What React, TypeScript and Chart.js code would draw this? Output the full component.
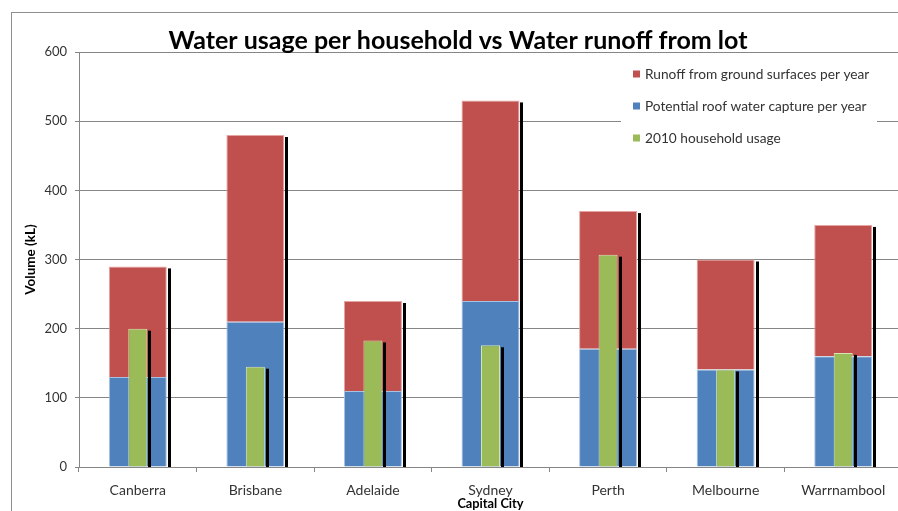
import React, { useEffect, useRef } from 'react';
import { Chart, registerables } from 'chart.js';

Chart.register(...registerables);

const categories = ['Canberra', 'Brisbane', 'Adelaide', 'Sydney', 'Perth', 'Melbourne', 'Warrnambool'];
const groundRunoff = [160, 270, 130, 290, 199, 159, 190];
const roofCapture = [130, 210, 110, 240, 171, 141, 160];
const householdUsage = [200, 145, 183, 176, 307, 141, 165];
const yTicks = [0, 100, 200, 300, 400, 500, 600];
const seriesNames = ['Runoff from ground surfaces per year', 'Potential roof water capture per year', '2010 household usage'];
const TITLE = 'Water usage per household vs Water runoff from lot';
const Y_TITLE = 'Volume (kL)';
const X_TITLE = 'Capital City';

const FONT = 'Lato, "Open Sans", sans-serif';
const GRID = '#868686';
const TEXT = '#333333';

const framePlugin = {
  id: 'frame',
  beforeDraw(chart: any) {
    const ctx = chart.ctx;
    ctx.save();
    ctx.strokeStyle = '#8e8e8e';
    ctx.lineWidth = 1;
    ctx.strokeRect(11.5, 12.5, 2000, 2000);
    ctx.restore();
  },
};

// black drop strip on the right side of every bar, drawn just before the bars of that dataset
const shadowPlugin = {
  id: 'barShadow',
  beforeDatasetDraw(chart: any, args: any) {
    const ctx = chart.ctx;
    const meta = args.meta;
    const zero = chart.scales.y.getPixelForValue(0);
    ctx.save();
    ctx.fillStyle = '#000000';
    meta.data.forEach((el: any) => {
      const p = el.getProps(['x', 'y', 'base', 'width'], true);
      const right = p.x + p.width / 2;
      const top = Math.min(p.y, p.base) + 2;
      ctx.fillRect(Math.round(right) + 1, top, 3, zero - top);
    });
    ctx.restore();
  },
};

const overlayPlugin = {
  id: 'overlay',
  afterDraw(chart: any) {
    const ctx = chart.ctx;
    ctx.save();
    // title
    ctx.fillStyle = '#000000';
    ctx.font = `bold 25px ${FONT}`;
    ctx.textAlign = 'center';
    ctx.textBaseline = 'alphabetic';
    ctx.fillText(TITLE, 458, 49);
    // legend
    ctx.fillStyle = '#ffffff';
    ctx.fillRect(621, 57, 256, 101);
    ctx.font = `13.7px ${FONT}`;
    ctx.textAlign = 'left';
    ctx.textBaseline = 'middle';
    chart.data.datasets.forEach((ds: any, i: number) => {
      const cy = 74 + i * 32;
      ctx.fillStyle = ds.backgroundColor;
      ctx.fillRect(633, cy - 3.5, 7, 7);
      ctx.fillStyle = TEXT;
      ctx.fillText(ds.label, 645, cy + 0.5);
    });
    ctx.restore();
  },
};

export default function App() {
  const ref = useRef<HTMLCanvasElement>(null);
  useEffect(() => {
    if (!ref.current) return;
    const chart = new Chart(ref.current, {
      type: 'bar',
      data: {
        labels: categories,
        datasets: [
          {
            label: seriesNames[0],
            data: groundRunoff,
            backgroundColor: '#C0504D',
            borderColor: '#E3A4A2',
            borderWidth: 1,
            stack: 'total',
            order: 3,
            grouped: false,
            barPercentage: 0.493,
            categoryPercentage: 1,
          },
          {
            label: seriesNames[1],
            data: roofCapture,
            backgroundColor: '#4F81BD',
            borderColor: '#A9C2E2',
            borderWidth: 1,
            stack: 'total',
            order: 2,
            grouped: false,
            barPercentage: 0.493,
            categoryPercentage: 1,
          },
          {
            label: seriesNames[2],
            data: householdUsage,
            backgroundColor: '#9BBB59',
            borderColor: '#D5E5B4',
            borderWidth: 1,
            stack: 'usage',
            order: 1,
            grouped: false,
            barPercentage: 0.162,
            categoryPercentage: 1,
          },
        ] as any,
      },
      options: {
        responsive: false,
        animation: false,
        events: [],
        layout: { padding: { left: 19, top: 52, right: 8, bottom: 14 } },
        plugins: {
          legend: { display: false },
          title: { display: false },
          tooltip: { enabled: false },
        },
        scales: {
          x: {
            afterFit(scale: any) { scale.height = 49; },
            grid: { display: true, drawOnChartArea: false, drawTicks: true, tickLength: 5, color: GRID },
            border: { display: true, color: GRID },
            ticks: { color: TEXT, font: { family: FONT, size: 14 }, padding: 10, maxRotation: 0 },
            title: { display: true, text: X_TITLE, color: '#000000', font: { family: FONT, size: 12.8, weight: 'bold' }, padding: { top: 0, bottom: 4 } },
          },
          y: {
            stacked: true,
            min: yTicks[0],
            max: yTicks[yTicks.length - 1],
            afterFit(scale: any) { scale.width = 60; },
            afterBuildTicks(scale: any) { scale.ticks = yTicks.map((v) => ({ value: v })); },
            grid: { color: GRID, tickLength: 4, drawTicks: true },
            border: { display: true, color: GRID },
            ticks: { color: TEXT, font: { family: FONT, size: 13 }, padding: 8 },
            title: { display: true, text: Y_TITLE, color: '#000000', font: { family: FONT, size: 13.5, weight: 'bold' }, padding: 4 },
          },
        },
      } as any,
      plugins: [framePlugin, shadowPlugin, overlayPlugin],
    });
    return () => chart.destroy();
  }, []);
  return (
    <div style={{ position: 'absolute', left: 0, top: 0, width: 898, height: 511, overflow: 'hidden', background: '#ffffff' }}>
      <canvas ref={ref} width={910} height={530} style={{ display: 'block' }} />
    </div>
  );
}
